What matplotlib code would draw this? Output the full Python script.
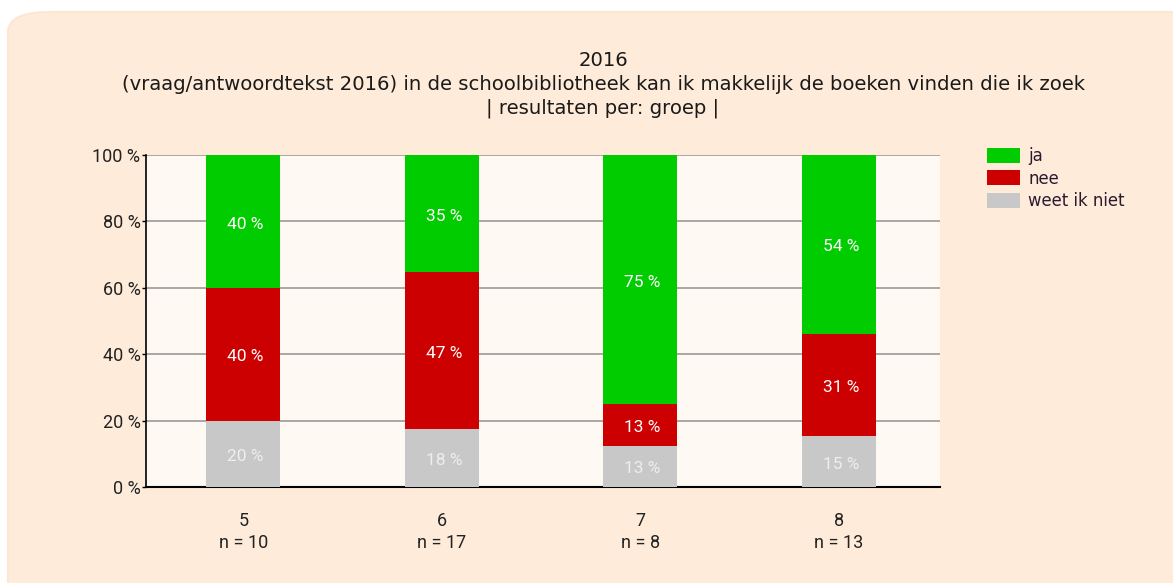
import numpy as np
import matplotlib
matplotlib.use("Agg")
import matplotlib.pyplot as plt
from matplotlib.patches import FancyBboxPatch

groups = ["5", "6", "7", "8"]
counts = [10, 17, 8, 13]
weet = [20.0, 17.6, 12.5, 15.4]
nee = [40.0, 47.1, 12.5, 30.8]
ja = [40.0, 35.3, 75.0, 53.8]
series = [("weet ik niet", weet, "#c8c8c8", "#eeeeee"),
          ("nee", nee, "#cc0000", "white"),
          ("ja", ja, "#00cc00", "white")]
yticks = [0, 20, 40, 60, 80, 100]
title_lines = ["2016",
               "(vraag/antwoordtekst 2016) in de schoolbibliotheek kan ik makkelijk de boeken vinden die ik zoek",
               "| resultaten per: groep |"]

W, H = 1173, 583
fig = plt.figure(figsize=(W / 100, H / 100), dpi=100)
fig.patch.set_facecolor("white")

# rounded peach panel
panel = FancyBboxPatch((8 / W, -0.2), 1.2, 1 - 12 / H + 0.2,
                       boxstyle="round,pad=0,rounding_size=0.035",
                       transform=fig.transFigure, facecolor="#feebd9",
                       edgecolor="#fde6d2", linewidth=1.5, zorder=-5)
fig.patches.append(panel)

ax = fig.add_axes([146 / W, 1 - 487 / H, (940 - 146) / W, (487 - 155) / H])
ax.set_facecolor("#fff9f4")

x = np.arange(len(groups))
bottom = np.zeros(len(groups))
handles = {}
for name, vals, col, tcol in series:
    vals = np.array(vals)
    b = ax.bar(x, vals, 0.373, bottom=bottom, color=col, zorder=3)
    handles[name] = b
    for xi, v, bt in zip(x, vals, bottom):
        ax.text(xi + 0.012, bt + v / 2 - 0.8, "%d %%" % int(v + 0.5), ha="center", va="center",
                color=tcol, fontsize=12.5, family="Roboto", zorder=4)
    bottom += vals

ax.set_xlim(-0.49, 3.51)
ax.set_ylim(0, 100)
ax.set_yticks(yticks)
ax.set_yticklabels(["%d %%" % t for t in yticks], family="Roboto", fontsize=13, color="#222222")
ax.set_xticks(x)
ax.set_xticklabels(["%s\nn = %d" % (g, n) for g, n in zip(groups, counts)],
                   family="Roboto", fontsize=13, color="#222222", linespacing=1.27)
ax.tick_params(axis="x", length=0, pad=18)
ax.tick_params(axis="y", length=3, width=1, pad=1, direction="out")
ax.grid(axis="y", color="#999999", linewidth=1.2, zorder=1)
for s in ["top", "right"]:
    ax.spines[s].set_visible(False)
ax.spines["left"].set_linewidth(1.2)
ax.spines["bottom"].set_linewidth(1.5)

for i, line in enumerate(title_lines):
    fig.text(603 / W, 1 - (60 + 24 * i) / H, line, ha="center", va="center",
             fontsize=14.1, color="#1a1a1a", family="DejaVu Sans")

order = ["ja", "nee", "weet ik niet"]
leg = fig.legend([handles[k] for k in order], order, loc="upper left",
                 bbox_to_anchor=(972 / W, 1 - 132 / H), frameon=False,
                 prop={"family": "DejaVu Sans", "size": 11.9}, handlelength=2.0,
                 handleheight=1.0, handletextpad=0.5, labelspacing=0.28)
for t in leg.get_texts():
    t.set_color("#2a1a30")

fig.savefig("out.png", dpi=100, facecolor=fig.get_facecolor())
